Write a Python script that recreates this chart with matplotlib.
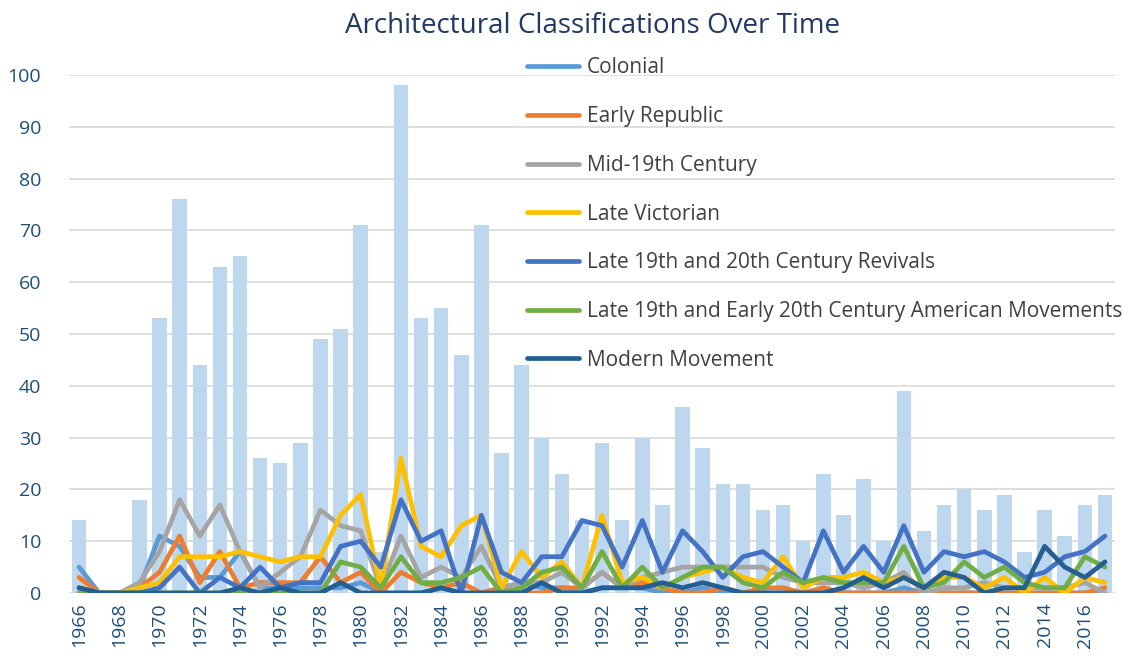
import matplotlib
matplotlib.use("Agg")
import matplotlib.pyplot as plt
import numpy as np

years = list(range(1966, 2018))
total = [14, 0, 0, 18, 53, 76, 44, 63, 65, 26, 25, 29, 49, 51, 71, 8, 98, 53, 55, 46,
         71, 27, 44, 30, 23, 14, 29, 14, 30, 17, 36, 28, 21, 21, 16, 17, 10, 23, 15, 22,
         10, 39, 12, 17, 20, 16, 19, 8, 16, 11, 17, 19]

colonial = [5, 0, 0, 1, 11, 9, 3, 3, 8, 1, 1, 1, 1, 1, 2, 0, 0, 0, 1, 0,
            0, 1, 2, 1, 1, 0, 1, 1, 1, 0, 0, 1, 0, 0, 0, 0, 0, 0, 0, 0,
            0, 1, 0, 0, 0, 0, 0, 0, 0, 0, 0, 0]
early_republic = [3, 0, 0, 1, 4, 11, 2, 8, 1, 2, 2, 2, 7, 2, 4, 0, 4, 2, 1, 2,
                  0, 1, 0, 0, 1, 1, 4, 1, 2, 1, 0, 0, 1, 0, 1, 1, 0, 1, 0, 0,
                  0, 0, 0, 0, 0, 0, 0, 0, 0, 0, 0, 1]
mid_19th = [1, 0, 0, 2, 8, 18, 11, 17, 8, 1, 4, 7, 16, 13, 12, 1, 11, 3, 5, 3,
            9, 1, 2, 2, 4, 1, 4, 1, 3, 4, 5, 5, 5, 5, 5, 3, 2, 2, 2, 1,
            2, 4, 0, 1, 1, 2, 1, 1, 1, 1, 2, 0]
late_victorian = [0, 0, 0, 1, 2, 7, 7, 7, 8, 7, 6, 7, 7, 15, 19, 1, 26, 9, 7, 13,
                  15, 1, 8, 3, 6, 1, 15, 2, 3, 1, 3, 4, 5, 3, 2, 7, 1, 3, 3, 4,
                  2, 3, 1, 3, 3, 1, 3, 0, 3, 0, 3, 2]
revivals = [1, 0, 0, 0, 1, 5, 0, 3, 1, 5, 1, 2, 2, 9, 10, 5, 18, 10, 12, 0,
            15, 4, 2, 7, 7, 14, 13, 5, 14, 4, 12, 8, 3, 7, 8, 5, 2, 12, 4, 9,
            4, 13, 4, 8, 7, 8, 6, 3, 4, 7, 8, 11]
american = [0, 0, 0, 0, 0, 0, 0, 0, 0, 0, 0, 0, 0, 6, 5, 1, 7, 2, 2, 3,
            5, 0, 1, 4, 5, 1, 8, 1, 5, 1, 3, 5, 5, 2, 1, 4, 2, 3, 2, 2,
            2, 9, 1, 2, 6, 3, 5, 2, 1, 1, 7, 5]
modern = [1, 0, 0, 0, 0, 0, 0, 0, 1, 0, 1, 0, 0, 2, 0, 0, 0, 0, 1, 0,
          0, 0, 0, 2, 0, 0, 1, 1, 1, 2, 1, 2, 1, 0, 0, 0, 0, 0, 1, 3,
          1, 3, 1, 4, 3, 0, 1, 1, 9, 5, 3, 6]

series_names = ["Colonial", "Early Republic", "Mid-19th Century", "Late Victorian",
                "Late 19th and 20th Century Revivals",
                "Late 19th and Early 20th Century American Movements",
                "Modern Movement"]
series_vals = [colonial, early_republic, mid_19th, late_victorian, revivals, american, modern]
colors = ["#5B9BD5", "#ED7D31", "#A5A5A5", "#FFC000", "#4472C4", "#70AD47", "#255E91"]

plt.rcParams['font.family'] = ['Open Sans', 'DejaVu Sans']

fig = plt.figure(figsize=(11.35, 6.58), dpi=100)
ax = fig.add_axes([0.0608, 0.0988, 0.9216, 0.7872])

ax.bar(years, total, width=0.72, color="#BDD7EE", zorder=1)
for name, vals, c in zip(series_names, series_vals, colors):
    ax.plot(years, vals, color=c, lw=3.4, label=name, solid_capstyle='round',
            solid_joinstyle='round', zorder=3)

ax.set_xlim(1965.5, 2017.5)
ax.set_ylim(0, 100)
ax.set_yticks(range(0, 101, 10))
ax.set_xticks(range(1966, 2018, 2))
ax.set_xticklabels([str(y) for y in range(1966, 2018, 2)], rotation=90)
ax.tick_params(axis='both', length=0, labelsize=14, colors="#1F4E79")
ax.tick_params(axis='y', pad=20)
ax.tick_params(axis='x', pad=7)
ax.yaxis.grid(True, color="#D9D9D9", lw=1.2, zorder=0)
ax.set_axisbelow(True)
for s in ax.spines.values():
    s.set_visible(False)

ax.set_title("Architectural Classifications Over Time", fontsize=20, color="#1F3864",
             pad=30)

leg = ax.legend(loc='upper left', bbox_to_anchor=(0.43, 1.05), frameon=False,
                fontsize=15, labelspacing=1.33, handlelength=2.5, handletextpad=0.35,
                borderaxespad=0)
for t in leg.get_texts():
    t.set_color("#404040")

fig.savefig("out.png", dpi=100)
